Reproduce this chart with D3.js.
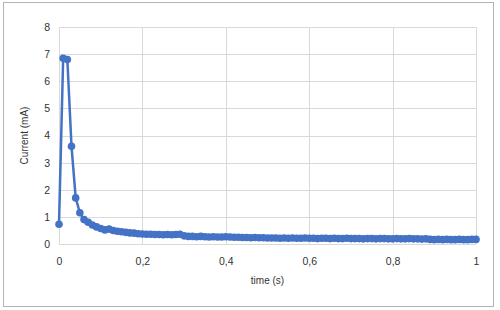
<!DOCTYPE html>
<html lang="en">
<head>
    <meta charset="UTF-8">
    <title>current vs time</title>
    <script src="https://cdn.jsdelivr.net/npm/d3@7"></script>
    <style>
        body { margin: 0; background: #fff; }
        text { font-family: "Liberation Sans", Arial, sans-serif; fill: #333; }
        .grid line { stroke: #d9d9d9; stroke-width: 1px; }
        path.current { stroke: #4472c4; stroke-width: 2.5px; fill: none; }
        circle.pt { fill: #4472c4; }
    </style>
</head>
<body>
<svg width="500" height="310"></svg>
<script>
    // sampling step (s) and measured current (mA)
    let dt = 0.01
    let current = [
        0.73, 6.85, 6.80, 3.60, 1.70, 1.15, 0.90, 0.80, 0.70, 0.63,
        0.57, 0.52, 0.55, 0.50, 0.47, 0.45, 0.43, 0.41, 0.40, 0.38,
        0.37, 0.36, 0.36, 0.35, 0.35, 0.34, 0.35, 0.34, 0.35, 0.36,
        0.30, 0.28, 0.28, 0.27, 0.28, 0.27, 0.26, 0.27, 0.26, 0.26,
        0.27, 0.26, 0.25, 0.25, 0.24, 0.24, 0.23, 0.24, 0.23, 0.23,
        0.22, 0.22, 0.22, 0.21, 0.22, 0.21, 0.22, 0.21, 0.21, 0.22,
        0.21, 0.21, 0.20, 0.21, 0.21, 0.20, 0.21, 0.20, 0.20, 0.21,
        0.20, 0.20, 0.20, 0.19, 0.20, 0.20, 0.19, 0.20, 0.20, 0.19,
        0.19, 0.20, 0.19, 0.19, 0.20, 0.19, 0.19, 0.18, 0.19, 0.17,
        0.16, 0.17, 0.16, 0.17, 0.16, 0.16, 0.17, 0.16, 0.16, 0.17,
        0.17
    ]
    let xTicks = [0, 0.2, 0.4, 0.6, 0.8, 1]
    let yTicks = [0, 1, 2, 3, 4, 5, 6, 7, 8]

    let data = current.map(function (v, i) { return {t: i * dt, v: v} })

    let svg = d3.select('svg')

    // outer frame
    svg.append('rect').attr('x', 3.5).attr('y', 2.5).attr('width', 490).attr('height', 304)
        .attr('fill', 'none').attr('stroke', '#b3b3b3')

    let xScale = d3.scaleLinear().domain([0, 1]).range([59, 476])
    let yScale = d3.scaleLinear().domain([0, 8]).range([244, 27])
    let fmt = function (d) { return String(d).replace('.', ',') }

    // gridlines
    let grid = svg.append('g').attr('class', 'grid')
    grid.selectAll('line.h').data(yTicks).enter().append('line')
        .attr('x1', xScale(0)).attr('x2', xScale(1))
        .attr('y1', function (d) { return Math.round(yScale(d)) + 0.5 })
        .attr('y2', function (d) { return Math.round(yScale(d)) + 0.5 })
    grid.selectAll('line.v').data(xTicks).enter().append('line')
        .attr('y1', yScale(0)).attr('y2', yScale(8))
        .attr('x1', function (d) { return Math.round(xScale(d)) + 0.5 })
        .attr('x2', function (d) { return Math.round(xScale(d)) + 0.5 })

    // axes (labels only, Excel-style)
    let xAxis = svg.append('g').attr('transform', 'translate(0,' + (yScale(0) + 11) + ')')
        .call(d3.axisBottom(xScale).tickValues(xTicks).tickFormat(fmt).tickSize(0))
    let yAxis = svg.append('g').attr('transform', 'translate(' + (xScale(0) - 6) + ',0)')
        .call(d3.axisLeft(yScale).tickValues(yTicks).tickSize(0))
    svg.selectAll('.domain').remove()
    svg.selectAll('.tick text').attr('font-size', '10.5px').attr('font-family', '"Liberation Sans", Arial, sans-serif').attr('fill', '#333')

    // axis titles
    svg.append('text').attr('x', (xScale(0) + xScale(1)) / 2).attr('y', 284)
        .attr('text-anchor', 'middle').attr('font-size', '10px').text('time (s)')
    svg.append('text').attr('transform', 'translate(28,' + (yScale(4)) + ') rotate(-90)')
        .attr('text-anchor', 'middle').attr('font-size', '10px').text('Current (mA)')

    // series
    let line = d3.line()
        .x(function (d) { return xScale(d.t) })
        .y(function (d) { return yScale(d.v) })

    let fig = svg.append('g')
    fig.append('path').datum(data).attr('class', 'current').attr('d', line)
    fig.selectAll('circle').data(data).enter().append('circle')
        .attr('class', 'pt')
        .attr('cx', function (d) { return xScale(d.t) })
        .attr('cy', function (d) { return yScale(d.v) })
        .attr('r', 3.8)
</script>
</body>
</html>
